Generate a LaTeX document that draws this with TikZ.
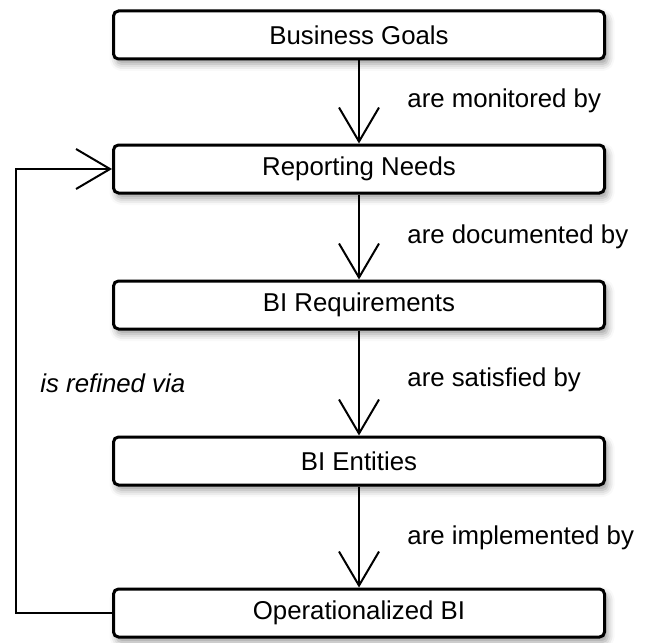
\documentclass[tikz,border=0pt]{standalone}
\usepackage{fontspec}
\setmainfont{Liberation Sans}
\usetikzlibrary{arrows.meta,shadows.blur}

\begin{document}
\begin{tikzpicture}[x=0.5pt,y=-0.5pt]
	%\draw[help lines] (0,0) grid (646,642);
	\useasboundingbox (0,0) rectangle (646,642);
	
	\tikzset{
		stage/.style = {draw, line width=1.5pt, rounded corners=2.5pt, fill=white,
			minimum width=245.5pt, minimum height=24pt, inner sep=0pt,
			font=\fontsize{12.9}{15}\selectfont,
			blur shadow={shadow xshift=1.5pt, shadow yshift=-2.5pt,
				shadow blur radius=3.5pt, shadow opacity=40}},
		rel/.style = {anchor=west, inner sep=0pt, font=\fontsize{12.9}{15}\selectfont},
		flow/.style = {line width=1pt, -{Straight Barb[length=17pt, width=20pt]}}
	}
	
	\node[stage] (goals) at (359,35)  {Business Goals};
	\node[stage] (needs) at (359,169) {Reporting Needs};
	\node[stage] (reqs)  at (359,305) {BI Requirements};
	\node[stage] (ents)  at (359,461) {BI Entities};
	\node[stage] (opbi)  at (359,613) {Operationalized BI};
	
	\node[rel] (mon) at (407,101) {are monitored by};
	\node[rel] (doc) at (407,237) {are documented by};
	\node[rel] (sat) at (407,380) {are satisfied by};
	\node[rel] (imp) at (407,538) {are implemented by};
	\node[rel, font=\fontsize{12.9}{15}\selectfont\itshape] (via) at (40,383) {is refined via};
	
	\draw[flow] (goals.south) -- (needs.north);
	\draw[flow] (needs.south) -- (reqs.north);
	\draw[flow] (reqs.south) -- (ents.north);
	\draw[flow] (ents.south) -- (opbi.north);
	
	% feedback loop
	\coordinate (back) at (16,613);
	\draw[flow] (opbi.west) -- (back) |- (needs.west);
\end{tikzpicture}
\end{document}
